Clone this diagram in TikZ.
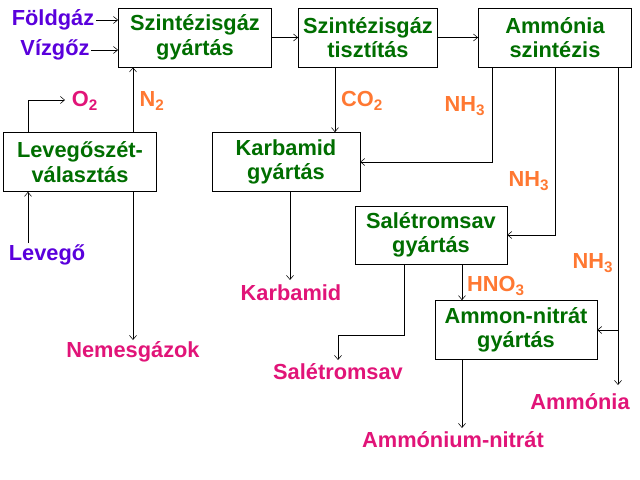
\documentclass[tikz,border=0pt]{standalone}
\usepackage{fontspec}
\setmainfont{Liberation Sans}
\usepackage{tikz}
\usetikzlibrary{arrows.meta}
\definecolor{boxgreen}{RGB}{0,110,0}
\definecolor{inblue}{RGB}{90,0,220}
\definecolor{midorange}{RGB}{255,120,50}
\definecolor{outpink}{RGB}{225,20,120}
\tikzset{
  box/.style={draw,thin,text=boxgreen,font=\bfseries\fontsize{15.5}{17.5}\selectfont,align=center,inner sep=0pt},
  lbl/.style={font=\bfseries\fontsize{15.5}{17.5}\selectfont,inner sep=1pt},
  inp/.style={lbl,text=inblue},
  mid/.style={lbl,text=midorange},
  outp/.style={lbl,text=outpink},
  flow/.style={-{Straight Barb[length=3pt,width=5pt]},thin}
}
\begin{document}
\begin{tikzpicture}[x=0.025cm,y=-0.025cm]
        \useasboundingbox (0,0) rectangle (640,480);
        % process boxes
        \node[box,minimum width=109pt,minimum height=42pt] (SG) at (195,37.5) {Szintézisgáz\\gyártás};
        \node[box,minimum width=99pt,minimum height=42pt] (ST) at (368,37.5) {Szintézisgáz\\tisztítás};
        \node[box,minimum width=109pt,minimum height=42pt] (AS) at (555,37.5) {Ammónia\\szintézis};
        \node[box,minimum width=109pt,minimum height=42pt] (LV) at (80,162) {Levegőszét-\\választás};
        \node[box,minimum width=105pt,minimum height=42pt] (KG) at (286,162) {Karbamid\\gyártás};
        \node[box,minimum width=108pt,minimum height=41pt] (SA) at (431,235) {Salétromsav\\gyártás};
        \node[box,minimum width=115pt,minimum height=42pt] (AN) at (516,330) {Ammon-nitrát\\gyártás};

        % inputs and streams
        \node[inp] (FG) at (53,20) {Földgáz};
        \node[inp] (VG) at (55,50) {Vízgőz};
        \node[inp] (LG) at (47,255) {Levegő};
        \node[outp] (O2) at (85,101) {O$_\mathbf{2}$};
        \node[mid] (N2) at (152,101) {N$_\mathbf{2}$};
        \node[mid] (CO2) at (362,101) {CO$_\mathbf{2}$};
        \node[mid] (NH3a) at (465,106) {NH$_\mathbf{3}$};
        \node[mid] (NH3b) at (529,181) {NH$_\mathbf{3}$};
        \node[mid] (NH3c) at (593,263) {NH$_\mathbf{3}$};
        \node[mid] (HNO3) at (496,286) {HNO$_\mathbf{3}$};

        % products
        \node[outp] (KB) at (291,293) {Karbamid};
        \node[outp] (NG) at (133,352) {Nemesgázok};
        \node[outp] (SS) at (338,372) {Salétromsav};
        \node[outp] (AM) at (580,402) {Ammónia};
        \node[outp] (ANN) at (453,440) {Ammónium-nitrát};

        \coordinate (o2end) at (65,100);
        \draw[flow] (FG.east) -- (SG.west |- FG.east);
        \draw[flow] (VG.east) -- (SG.west |- VG.east);
        \draw[flow] (SG) -- (ST);
        \draw[flow] (ST) -- (AS);
        \draw[flow] (LG.north -| 28,0) -- (LV.south -| 28,0);
        \draw[flow] (LV.north -| 28,0) |- (o2end);
        \draw[flow] (LV.north -| 133,0) -- (SG.south -| 133,0);
        \draw[flow] (LV.south -| 133,0) -- (133,340);
        \draw[flow] (ST.south -| 335,0) -- (KG.north -| 335,0);
        \draw[flow] (AS.south -| 492,0) |- (KG.east);
        \draw[flow] (AS.south -| 555,0) |- (SA.east);
        \draw[flow] (AS.south -| 618,0) -- (618,385);
        \draw[flow] (618,330) -- (AN.east);
        \draw[flow] (KG.south -| 290,0) -- (290,280);
        \draw[flow] (SA.south -| 404,0) |- (338,335) -- (338,360);
        \draw[flow] (SA.south -| 462,0) -- (AN.north -| 462,0);
        \draw[flow] (AN.south -| 462,0) -- (462,428);
\end{tikzpicture}
\end{document}
